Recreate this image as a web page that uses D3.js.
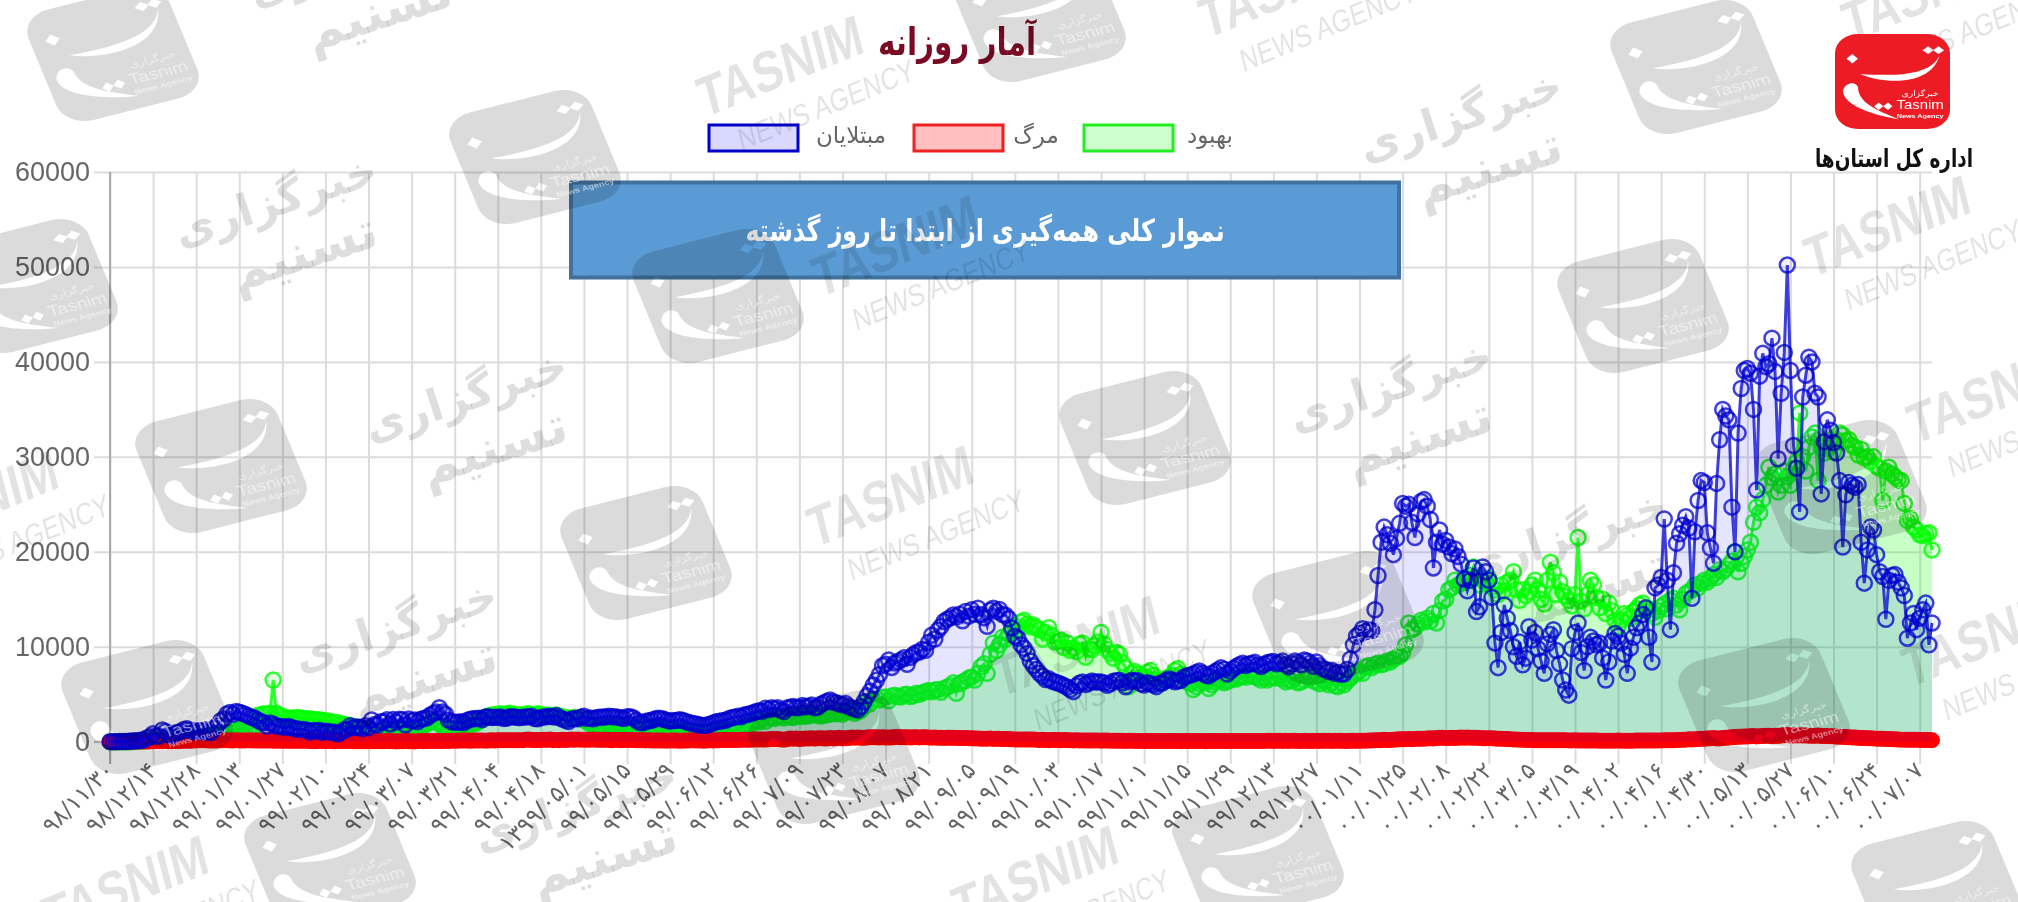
<!DOCTYPE html>
<html>
<head>
<meta charset="utf-8">
<script src="https://d3js.org/d3.v7.min.js"></script>
<style>
  body { margin: 0; background: #fff; }
  svg { display: block; filter: blur(0.6px); }
  .axis text { fill: #666; }
  .grid line { stroke: #dcdcdc; stroke-width: 2px; }
  .grid .domain { stroke: none; }
</style>
</head>
<body>
<svg id="chart" width="2018" height="902"></svg>
<script>
// tick labels, one every 14 days
const dateLabels = ["۹۸/۱۱/۳۰","۹۸/۱۲/۱۴","۹۸/۱۲/۲۸","۹۹/۰۱/۱۳","۹۹/۰۱/۲۷","۹۹/۰۲/۱۰","۹۹/۰۲/۲۴","۹۹/۰۳/۰۷","۹۹/۰۳/۲۱","۹۹/۰۴/۰۴","۹۹/۰۴/۱۸","۱۳۹۹/۰۵/۰۱","۹۹/۰۵/۱۵","۹۹/۰۵/۲۹","۹۹/۰۶/۱۲","۹۹/۰۶/۲۶","۹۹/۰۷/۰۹","۹۹/۰۷/۲۳","۹۹/۰۸/۰۷","۹۹/۰۸/۲۱","۹۹/۰۹/۰۵","۹۹/۰۹/۱۹","۹۹/۱۰/۰۳","۹۹/۱۰/۱۷","۹۹/۱۱/۰۱","۹۹/۱۱/۱۵","۹۹/۱۱/۲۹","۹۹/۱۲/۱۳","۹۹/۱۲/۲۷","۰۰/۰۱/۱۱","۰۰/۰۱/۲۵","۰۰/۰۲/۰۸","۰۰/۰۲/۲۲","۰۰/۰۳/۰۵","۰۰/۰۳/۱۹","۰۰/۰۴/۰۲","۰۰/۰۴/۱۶","۰۰/۰۴/۳۰","۰۰/۰۵/۱۳","۰۰/۰۵/۲۷","۰۰/۰۶/۱۰","۰۰/۰۶/۲۴","۰۰/۰۷/۰۷"];
const yTicks = [0,10000,20000,30000,40000,50000,60000];

// daily values, 14 per row
const infected = [
2,3,5,13,18,28,43,61,95,106,143,205,385,523,
835,586,591,1234,1076,743,595,881,958,1075,1289,1365,1209,1053,
1178,1192,1046,1237,966,1028,1411,1762,2206,2389,2926,3076,2901,3186,
3110,2988,2875,2715,2560,2483,2274,2089,1997,1634,1972,1837,1657,1617,
1574,1512,1606,1499,1374,1343,1294,1297,1194,1030,1168,1134,1194,991,
1112,1073,993,1006,802,976,1223,1323,1680,1485,1556,1529,1383,1683,
1481,2294,1808,1757,2102,2111,2323,1869,2346,2080,2364,2311,1787,2392,
2180,2282,2095,2364,2442,2523,2786,2979,3134,3574,3117,2886,2269,2095,
2043,2049,2095,2011,2238,2369,2410,2449,2472,2322,2612,2615,2536,2566,
2563,2595,2449,2489,2631,2628,2579,2531,2586,2595,2637,2691,2449,2414,
2549,2613,2637,2691,2612,2752,2521,2388,2262,2125,2379,2450,2414,2586,
2686,2449,2500,2414,2521,2566,2595,2613,2691,2637,2620,2586,2521,2432,
2637,2620,2521,2262,2033,1992,2133,2205,2262,2380,2462,2449,2360,2244,
2166,2232,2245,2308,2262,2125,2010,1931,1892,1802,1721,1712,1756,1850,
1980,2102,2146,2205,2262,2410,2521,2586,2691,2620,2800,2866,2951,3049,
3186,3249,3204,3521,3380,3582,3462,3574,3320,3186,3537,3636,3712,3582,
3603,3825,3682,3735,3860,3574,3645,3940,4103,4251,4392,4175,4108,3962,
3890,4019,3712,3560,3463,3350,3712,4206,4830,5331,5960,6463,7089,8012,
8145,8616,7820,8293,8433,8616,8830,8146,8864,9170,9400,9450,9745,9620,
10463,11223,10820,11737,12131,12660,12885,13053,13352,13158,13421,12727,13721,13223,
13890,13421,14051,13371,13053,12151,13843,14051,13721,13922,13402,13321,12950,11970,
11100,10888,10223,9846,9300,8500,8011,7621,7200,6900,6540,6620,6395,6280,
6179,6058,5900,5730,5502,5271,5880,6150,6290,6020,6177,6403,6289,6300,
6300,6180,5946,6102,6364,6430,6480,6205,5793,6310,6463,6385,6420,6104,
5960,6200,6120,5980,5800,6125,6200,6430,6600,6510,6315,6390,6470,6820,
6940,7010,7120,7290,7440,7200,7020,6930,7180,7360,7560,7780,7620,7120,
7430,7710,7925,8100,8250,8030,8180,8240,8360,8090,7925,8120,8320,8400,
8450,8210,8310,8490,8100,7900,8200,8500,8350,8100,8600,8510,8300,7950,
8400,8000,7700,7600,7400,7500,7200,7280,7100,7150,7600,8700,10200,11100,
11400,11900,11600,11800,11700,13900,17500,21000,22600,21800,20900,19700,21400,23000,
25100,24800,25000,23100,21500,24000,25300,25500,24800,23400,18300,21000,22300,20800,
21200,20500,19800,20300,19500,18700,17100,15900,17000,18300,13700,14200,18400,17900,
17000,15200,10400,7800,11500,14400,13000,11700,10000,9000,10500,8100,8800,12100,
10700,11500,9800,8500,7200,10300,11300,11800,9600,8200,6500,5450,4900,9800,
11500,12500,9400,7500,10000,11000,10600,10200,10400,8800,6500,8400,10600,11400,
11100,10400,9200,7200,9850,11000,12000,12500,13400,14100,11000,8400,16200,16500,
17300,23450,17000,11800,17800,20900,21900,22800,23700,22500,15100,22100,25400,27500,
27300,22000,20400,18800,27200,31800,35000,34300,33900,24700,20000,32500,37200,39100,
39300,38800,35000,26500,38500,40900,39500,39800,42500,39000,29800,36700,41000,50200,
39100,31200,28800,24200,36300,38600,40500,40000,36700,36300,26100,31600,33900,32800,
31500,30400,27500,20500,26000,27300,27000,26800,27100,21000,16700,20200,22600,22300,
19700,17900,17400,12900,17000,17500,17600,16800,16200,15400,10900,12500,13500,11800,
13000,13900,14600,10200,12500];

const recovered = [
0,0,0,0,0,0,0,0,20,50,60,70,100,120,
135,150,170,190,210,230,270,320,360,390,430,460,480,500,
520,540,560,590,600,650,700,720,760,800,900,1020,1100,1250,
1350,1400,1380,1320,1450,1600,2750,2850,2950,2900,3000,6500,3000,2800,
2650,2550,2500,2450,2520,2560,2500,2450,2380,2420,2350,2300,2320,2250,
2200,2150,2100,2050,2000,1900,1820,1760,1700,1600,1550,1500,1400,1300,
1200,1100,1120,1000,950,1050,1100,1150,1200,1300,1350,1250,1180,1150,
1200,1300,1400,1550,1700,1900,2100,2300,2050,1900,1600,1500,1300,1350,
1400,1500,1600,1680,1750,1800,1900,1950,2200,2400,2600,2700,2800,2850,
2900,2950,2850,2950,3000,2900,2800,2850,2750,2900,2950,2850,2800,2950,
2850,2750,2800,2750,2650,2800,2700,2600,2550,2450,2500,2550,2450,2500,
2300,2100,1900,1700,1600,1650,1700,1650,1750,1700,1650,1600,1750,1700,
1600,1500,1300,1250,1300,1600,1650,1550,1500,1400,1450,1500,1350,1300,
1250,1300,1200,1150,1100,1050,1000,900,1000,950,1000,1100,1050,1150,
1100,1050,1150,1200,1150,1250,1150,1200,1300,1450,1600,1700,1800,2000,
2200,2100,2400,2150,2500,2600,2450,2700,2650,2500,2750,2600,2550,2700,
2800,2650,2750,2700,2850,2900,2750,2700,2800,2850,2900,3000,2950,3100,
2900,3100,3300,3250,3000,3150,3300,3700,4200,4000,4300,4500,4400,4650,
4700,4300,4800,4900,4750,4700,4950,5000,4750,4850,5100,5000,5150,5300,
5400,5250,5450,5500,5200,5600,5750,5900,6200,5100,6100,6300,6450,6700,
6800,6500,7200,7900,8200,7200,9200,10400,9600,10200,11000,10800,11300,11700,
12200,11800,12600,12800,12400,12100,12300,12000,11800,10800,11500,12000,11200,10500,
10600,10700,9900,10400,9600,9900,9500,10300,10400,8900,9800,9700,10100,10500,
11500,10300,9700,9300,8800,9400,9200,8300,7800,5800,7200,7400,7100,6800,
6900,7300,7500,7000,6500,6300,6200,6600,6800,7000,7500,7700,7100,6600,
6300,6100,5500,5800,6100,6300,6200,5600,6000,6300,6500,6400,6200,6350,
6500,6700,6600,6800,6900,6800,7000,6900,6850,6700,6500,6800,6500,6700,
6800,6700,6900,6600,6300,6500,6400,6700,6200,6300,6500,6800,6700,6400,
6300,6100,6500,6300,6000,6200,5900,5800,6200,6000,6400,6700,7000,7200,
7400,7200,7900,8000,7800,8100,8300,8100,8200,8500,8400,8700,8900,9000,
9400,10200,12500,11800,12000,12400,12800,12600,13000,12700,13500,12500,13800,14800,
15000,16000,16200,17000,16500,16700,16800,17200,17500,18400,17300,16500,17000,16800,
17200,16300,16000,15500,16500,15900,16800,17000,17900,16000,14900,16000,15400,15800,
16500,17000,16000,15000,14500,17000,18900,17800,15500,16800,15800,15300,14900,14300,
15500,21500,14800,14000,15500,17000,16500,15200,14100,15000,13500,14600,13800,12800,
12100,12800,13500,13300,13000,13700,14000,14400,14600,13800,14000,13500,13100,13800,
14200,14500,14000,14900,15100,14400,13900,15000,15600,15800,16000,16500,16200,16700,
17000,16800,17200,17600,17300,18100,17900,18200,18600,19000,20000,17900,18800,19500,
20200,21000,23100,24700,24100,25500,27000,28900,27800,28200,26300,27000,28500,27900,
27000,28800,29500,34600,30000,28500,31000,32100,32500,27500,31000,30400,30900,31800,
30500,31500,32500,32300,31700,31800,31200,31000,30200,30800,29900,30000,29500,30000,
29000,28800,25400,28500,28900,28200,27900,27600,27500,25100,23300,23500,22600,22300,
21800,21700,21900,22000,20200];

const deaths = [
2,2,4,4,4,4,4,8,8,12,15,16,16,26,
34,43,49,49,92,43,54,63,75,85,97,113,92,129,
135,147,149,149,123,129,127,122,143,157,144,139,123,141,
138,124,134,158,136,133,121,117,122,125,117,111,113,111,
98,94,92,89,87,88,94,90,88,76,60,60,96,76,
71,80,63,47,74,74,78,68,68,51,45,48,45,50,
48,35,47,69,55,51,62,58,51,34,50,57,63,59,
50,34,57,63,59,64,70,81,75,71,74,78,79,107,
100,113,115,121,115,87,120,119,120,134,109,126,144,122,
141,160,162,147,163,154,142,148,153,200,221,179,188,174,
183,203,194,221,160,183,158,200,179,215,235,216,229,215,
212,208,212,226,216,195,208,196,189,156,198,190,161,187,
178,168,166,158,152,151,130,152,119,128,131,125,117,113,
135,125,119,108,110,119,126,144,130,132,120,113,125,144,
114,159,165,178,175,184,180,179,186,200,210,215,205,226,
226,239,235,227,253,279,251,272,239,211,264,337,322,337,
279,322,330,335,365,322,365,372,340,337,391,346,369,415,
346,373,386,434,423,440,412,419,431,457,459,462,440,456,
435,431,440,482,486,469,479,470,431,469,475,452,469,457,
451,428,433,413,419,402,420,408,415,400,389,388,385,370,
355,350,331,321,300,320,330,296,300,302,280,277,280,260,
238,220,221,234,224,222,221,195,177,196,170,164,190,180,
175,150,167,160,150,131,145,135,130,115,120,126,134,132,
112,117,121,107,107,100,91,88,85,90,97,82,82,81,
82,74,79,73,69,72,72,66,69,64,65,66,60,71,
76,70,75,67,78,65,59,70,66,74,81,63,65,70,
75,79,80,85,83,72,86,85,84,77,79,82,95,90,
85,93,87,84,92,84,88,95,84,79,87,78,82,86,
90,81,100,106,102,83,95,101,90,86,77,91,93,103,
98,107,111,127,131,155,162,164,193,175,182,214,233,249,
258,263,283,271,291,322,314,321,328,358,329,390,405,417,
402,391,406,385,405,439,410,438,422,405,420,397,376,361,
370,352,335,311,320,295,285,262,240,234,215,200,191,180,
175,163,156,150,146,150,148,150,151,144,143,144,134,139,
140,128,120,117,120,122,115,117,107,105,113,112,108,111,
115,110,106,103,101,104,116,117,114,117,120,127,120,134,
137,142,146,153,144,170,187,196,212,245,222,270,280,300,
317,333,356,388,350,345,396,411,454,466,496,509,530,542,
544,564,588,553,582,595,615,619,584,625,604,655,684,709,
636,648,655,684,640,658,639,620,625,655,612,594,609,582,
564,532,525,506,494,470,452,440,412,392,381,369,357,350,
320,310,300,288,280,263,247,224,217,216,211,200,195,208,
190,185,174,170,160];

// watermark spots on the page
const wmLogos = [[113,54],[535,157],[1040,15],[1696,67],[32,286],[718,296],[1643,306],[221,466],[1145,438],[1841,487],[646,553],[1338,618],[147,707],[834,757],[1764,705],[330,860],[1258,853],[1937,888]];
const wmLatin = [[785,85],[1287,6],[1892,245],[900,265],[895,515],[1081,665],[1930,10],[1990,655],[-20,520],[1040,895],[130,905],[1995,412]];
const wmFarsi = [[280,215],[470,410],[400,640],[1465,130],[1395,400],[1570,550],[355,-25],[580,820]];

const svg = d3.select("svg#chart");
const x = d3.scaleLinear().domain([0, infected.length - 1]).range([110, 1932]);
const y = d3.scaleLinear().domain([0, 60000]).range([741.7, 172]);

// gridlines
svg.append("g").attr("class", "grid")
  .attr("transform", "translate(110,0)")
  .call(d3.axisLeft(y).tickValues(yTicks).tickSize(-1822).tickSizeOuter(0).tickFormat(""))
  .selectAll("line").attr("x1", -16);
svg.append("g").attr("class", "grid")
  .attr("transform", "translate(0,172)")
  .call(d3.axisBottom(x).tickValues(d3.range(0, infected.length, 14)).tickSize(592).tickSizeOuter(0).tickFormat(""));
svg.append("line").attr("x1", 110).attr("x2", 110).attr("y1", 172).attr("y2", 764)
  .style("stroke", "#aaa").style("stroke-width", 2);
svg.append("line").attr("x1", 94).attr("x2", 1932).attr("y1", y(0)).attr("y2", y(0))
  .style("stroke", "#bbb").style("stroke-width", 2);

// axis labels
const yAxis = svg.append("g").attr("class", "axis")
  .attr("transform", "translate(90,0)")
  .call(d3.axisLeft(y).tickValues(yTicks).tickSize(0).tickFormat(d => d));
yAxis.select(".domain").remove();
yAxis.selectAll("text").attr("x", 0).style("font-family", "'Liberation Sans'").style("font-size", "27px");

const xAxis = svg.append("g").attr("class", "axis")
  .attr("transform", "translate(-1,766)")
  .call(d3.axisBottom(x).tickValues(d3.range(0, infected.length, 14)).tickSize(0)
    .tickFormat(d => dateLabels[d / 14]));
xAxis.select(".domain").remove();
xAxis.selectAll("text")
  .attr("text-anchor", "end").attr("x", 0).attr("y", 0).attr("dy", "0.35em")
  .attr("transform", "rotate(-45)")
  .style("font-family", "'DejaVu Sans'").style("font-size", "23px");

// one series: area down to zero, line, and the circles
function drawSeries(values, stroke, fill, pointFill, radius, width) {
  const g = svg.append("g");
  g.append("path").datum(values)
    .attr("d", d3.area().x((d, i) => x(i)).y0(y(0)).y1(d => y(d)))
    .style("fill", fill);
  g.append("path").datum(values)
    .attr("d", d3.line().x((d, i) => x(i)).y(d => y(d)))
    .style("fill", "none").style("stroke", stroke).style("stroke-width", 3);
  g.selectAll("circle").data(values).join("circle")
    .attr("cx", (d, i) => x(i))
    .attr("cy", d => y(d))
    .attr("r", radius)
    .style("fill", pointFill)
    .style("stroke", stroke)
    .style("stroke-width", width);
}
drawSeries(recovered, "rgba(0,255,0,0.8)", "rgba(0,255,0,0.22)", "rgba(0,255,0,0.12)", 7.5, 2.5);
drawSeries(deaths, "rgb(255,0,0)", "rgba(255,0,0,0.1)", "rgb(255,0,0)", 7, 2);
drawSeries(infected, "rgba(0,0,205,0.75)", "rgba(0,0,255,0.1)", "rgba(0,0,255,0.06)", 7.5, 2.5);

// legend
const legendItems = [
  { label: "مبتلایان", box: 709, text: 851, color: "#0000c8", fill: "rgba(0,0,255,0.15)" },
  { label: "مرگ", box: 914, text: 1036, color: "#ee2222", fill: "rgba(255,0,0,0.25)" },
  { label: "بهبود", box: 1084, text: 1210, color: "#22ee22", fill: "rgba(0,255,0,0.2)" }
];
legendItems.forEach(d => {
  svg.append("rect").attr("x", d.box).attr("y", 125).attr("width", 89).attr("height", 26)
    .style("fill", d.fill).style("stroke", d.color).style("stroke-width", 3);
  svg.append("text").text(d.label).attr("x", d.text).attr("y", 143).attr("text-anchor", "middle")
    .style("font-family", "'DejaVu Sans'").style("font-size", "23px").style("fill", "#666");
});

// title
svg.append("text").text("آمار روزانه").attr("transform", "translate(957,55) scale(0.82,1.05)").attr("text-anchor", "middle")
  .style("font-family", "'DejaVu Sans'").style("font-weight", "bold").style("font-size", "36px").style("fill", "#7b0a25");

// blue note box
svg.append("rect").attr("x", 571).attr("y", 182.5).attr("width", 828).attr("height", 95)
  .style("fill", "#5b9bd5").style("stroke", "#41719c").style("stroke-width", 4);
svg.append("text").text("نموار کلی همه‌گیری از ابتدا تا روز گذشته").attr("transform", "translate(985,241) scale(0.88,1.12)").attr("text-anchor", "middle")
  .style("font-family", "'DejaVu Sans'").style("font-weight", "bold").style("font-size", "27px").style("fill", "#fff");

// logo shape, square centred on 0,0 with cut outs
const logoShape = "M-30 -50H30A20 20 0 0 1 50 -30V30A20 20 0 0 1 30 50H-30A20 20 0 0 1 -50 30V-30A20 20 0 0 1 -30 -50Z"
  + "M26 -33l5 -4l5 4l-5 4zM35 -33l5 -4l5 4l-5 4z"
  + "M41 -28C34 -8 8 -5 -28 -8C-8 3 34 5 41 -28Z"
  + "M-40 -24l5 -5l5 5l-5 5z"
  + "M-43 9C-44 22 -24 34 6 40C-14 30 -30 22 -30 6C-32 0 -40 0 -43 9Z"
  + "M-16 26l4 -4l4 4l-4 4zM-8 26l4 -4l4 4l-4 4z";

function logoText(g, fill, opacity) {
  g.append("text").text("خبرگزاری").attr("x", 24).attr("y", 15).attr("text-anchor", "middle")
    .style("font-family", "'DejaVu Sans'").style("font-size", "8px").style("fill", fill).style("opacity", opacity);
  g.append("text").text("Tasnim").attr("x", 24).attr("y", 29).attr("text-anchor", "middle")
    .style("font-family", "'Liberation Sans'").style("font-size", "13px").style("fill", fill).style("opacity", opacity);
  g.append("text").text("News Agency").attr("x", 24).attr("y", 38).attr("text-anchor", "middle")
    .style("font-family", "'Liberation Sans'").style("font-weight", "bold").style("font-size", "6.3px").style("fill", fill).style("opacity", opacity);
}

// watermark goes over everything
const wm = svg.append("g").style("pointer-events", "none");
wmLogos.forEach(p => {
  const g = wm.append("g").attr("transform", `translate(${p[0]},${p[1]}) scale(1.28,1) rotate(-18) scale(1.16)`);
  g.append("path").attr("d", logoShape).attr("fill-rule", "evenodd").style("fill", "rgba(0,0,0,0.14)");
  logoText(g, "#fff", 0.5);
});
wmLatin.forEach(p => {
  const g = wm.append("g").attr("transform", `translate(${p[0]},${p[1]}) scale(0.95,1.2) rotate(-18)`);
  g.append("text").text("TASNIM").attr("text-anchor", "middle")
    .style("font-family", "'Liberation Sans'").style("font-weight", "bold").style("font-size", "48px").style("fill", "rgba(0,0,0,0.11)");
  g.append("text").text("NEWS AGENCY").attr("x", 36).attr("y", 38).attr("text-anchor", "middle")
    .style("font-family", "'Liberation Sans'").style("font-size", "26px").style("fill", "rgba(0,0,0,0.11)");
});
wmFarsi.forEach(p => {
  const g = wm.append("g").attr("transform", `translate(${p[0]},${p[1]}) scale(1.1,1.1) rotate(-18)`);
  g.append("text").text("خبرگزاری").attr("text-anchor", "middle")
    .style("font-family", "'DejaVu Sans'").style("font-weight", "bold").style("font-size", "40px").style("fill", "rgba(0,0,0,0.13)");
  g.append("text").text("تسنیم").attr("x", 10).attr("y", 54).attr("text-anchor", "middle")
    .style("font-family", "'DejaVu Sans'").style("font-weight", "bold").style("font-size", "46px").style("fill", "rgba(0,0,0,0.13)");
});

// Tasnim logo, top right
const badge = svg.append("g").attr("transform", "translate(1892.5,81.5) scale(1.15,0.95)");
badge.append("path").attr("d", logoShape).attr("fill-rule", "evenodd").style("fill", "#ed1c24");
logoText(badge, "#fff", 1);
svg.append("text").text("اداره کل استان‌ها").attr("transform", "translate(1894,167) scale(0.84,1.15)").attr("text-anchor", "middle")
  .style("font-family", "'DejaVu Sans'").style("font-weight", "bold").style("font-size", "22px").style("fill", "#111");
</script>
</body>
</html>
